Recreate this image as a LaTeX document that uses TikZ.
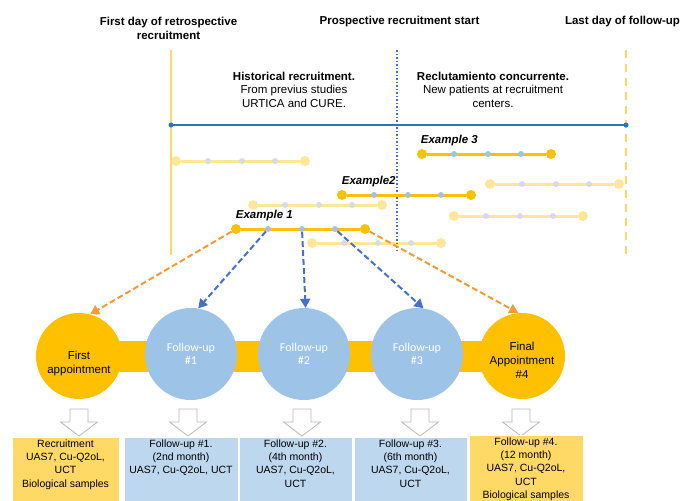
\documentclass[tikz,border=0pt]{standalone}
\usepackage{fontspec}
\setmainfont{Liberation Sans}
\newfontfamily\calibfont{Carlito}
\usetikzlibrary{positioning,arrows.meta}

\definecolor{apyellow}{HTML}{FFC000}
\definecolor{paleyellow}{HTML}{FFE699}
\definecolor{lineyellow}{HTML}{FFD966}
\definecolor{boxyellow}{HTML}{FFD966}
\definecolor{fublue}{HTML}{9DC3E6}
\definecolor{boxblue}{HTML}{BDD7EE}
\definecolor{fadeblue}{HTML}{D6DCE5}
\definecolor{arrorange}{HTML}{F29A35}
\definecolor{arrblue}{HTML}{4472C4}
\definecolor{axisblue}{HTML}{2E75B6}

\tikzset{
  headtext/.style={font=\fontsize{11.5}{13.5}\selectfont\bfseries, align=center, inner sep=0pt},
  infotext/.style={font=\fontsize{11.5}{13.5}\selectfont, align=center, inner sep=0pt},
  exlabel/.style={font=\fontsize{11.5}{13.5}\selectfont\bfseries\itshape, inner sep=1pt},
  tl end/.style={circle, fill=apyellow, minimum size=10pt, inner sep=0pt},
  tl dot/.style={circle, fill=fublue, minimum size=6pt, inner sep=0pt},
  tl line/.style={apyellow, line width=3pt},
  fd end/.style={circle, fill=paleyellow, minimum size=10pt, inner sep=0pt},
  fd dot/.style={circle, fill=fadeblue, minimum size=6pt, inner sep=0pt},
  fd line/.style={paleyellow, line width=3pt},
  axis dot/.style={circle, fill=axisblue, minimum size=5pt, inner sep=0pt},
  visit/.style={circle, fill=apyellow, minimum size=86pt, inner sep=0pt},
  visittext/.style={font=\fontsize{11.5}{14}\selectfont, align=center, inner sep=0pt},
  fuvisit/.style={circle, fill=fublue, minimum size=92pt, inner sep=0pt, text=white,
    font=\calibfont\fontsize{12}{13.5}\selectfont, align=center},
  orange link/.style={arrorange, line width=2pt, dash pattern=on 6pt off 3pt,
    -{Triangle[length=9pt,width=10pt]}},
  blue link/.style={arrblue, line width=2pt, dash pattern=on 6pt off 3pt,
    -{Triangle[length=9pt,width=10pt]}},
  infobox/.style={anchor=north, minimum width=#1, inner sep=2pt, align=center,
    text depth=60pt, draw=white, line width=1pt, font=\fontsize{10.5}{13.3}\selectfont},
  hollow/.style={draw=gray!55, fill=white, line width=0.8pt},
}

\begin{document}
\begin{tikzpicture}[x=1pt,y=-1pt]
\useasboundingbox (0,0) rectangle (681,501);
\clip (0,0) rectangle (681,501);

\node[headtext] (retro) at (168.5,28.5) {First day of retrospective\\recruitment};
\node[headtext] (pros) at (399.5,22) {Prospective recruitment start};
\node[headtext] (last) at (622.5,22) {Last day of follow-up};

\node[infotext] (hist) at (294,89.5) {\textbf{Historical recruitment.}\\From previus studies\\URTICA and CURE.};
\node[infotext] (recl) at (493,89.5) {\textbf{Reclutamiento concurrente.}\\New patients at recruitment\\centers.};

\foreach \x/\y [count=\i] in {176/161,490/184,253/205,454/216,312/243}{
  \node[fd end] (f\i s) at (\x,\y) {};
  \node[fd end] (f\i e) at ({\x+129},\y) {};
  \draw[fd line] (f\i s) -- (f\i e);
  \foreach \d [count=\j] in {32,66,99}
    \node[fd dot] (f\i d\j) at ({\x+\d},\y) {};
}

\coordinate (retro top) at (171,50);
\coordinate (retro bot) at (171,255);
\coordinate (pros top) at (397,50);
\coordinate (pros bot) at (397,252);
\coordinate (last top) at (626,50);
\coordinate (last bot) at (626,255);
\draw[lineyellow, line width=1.5pt] (retro top) -- (retro bot);
\draw[arrblue, line width=1.5pt, dotted] (pros top) -- (pros bot);
\draw[lineyellow, line width=1.5pt, dash pattern=on 8pt off 6pt] (last top) -- (last bot);

\node[axis dot] (axl) at (171,125) {};
\node[axis dot] (axr) at (626,125) {};
\draw[axisblue, line width=1.5pt] (axl.center) -- (axr.center);

\foreach \n/\x/\y in {3/422/154,2/342/195,1/236/229}{
  \node[tl end] (e\n s) at (\x,\y) {};
  \node[tl end] (e\n e) at ({\x+129},\y) {};
  \draw[tl line] (e\n s) -- (e\n e);
  \foreach \d [count=\j] in {32,66,99}
    \node[tl dot] (e\n d\j) at ({\x+\d},\y) {};
}
\node[exlabel, above right=3pt and -6pt of e3s] (ex3) {Example 3};
\node[exlabel, above right=3pt and -5pt of e2s] (ex2) {Example2};
\node[exlabel, above right=3pt and -5pt of e1s] (ex1) {Example 1};

\fill[apyellow] (79,341) rectangle (522,372);
\node[visit] (c1) at (79,356) {};
\node[visittext] (c1t) at ([yshift=-8pt]c1.center) {First\\appointment};
\node[fuvisit] (c2) at (191,354) {Follow-up\\\#1};
\node[fuvisit] (c3) at (304,354) {Follow-up\\\#2};
\node[fuvisit] (c4) at (417,354) {Follow-up\\\#3};
\node[visit] (c5) at (522,356) {};
\node[visittext] (c5t) at ([yshift=-4pt]c5.center) {Final\\Appointment\\\#4};

\draw[orange link] (e1s) -- (c1.75);
\draw[blue link] (e1d1) -- (c2.81);
\draw[blue link] (e1d2) -- (c3.88);
\draw[blue link] (e1d3) -- (c4.82);
\draw[orange link] (e1e) -- (c5.95);

\foreach \x in {79,188,302,420,521}
  \draw[hollow] ({\x-9},409) -- ({\x+9},409) -- ({\x+9},422) -- ({\x+18.5},422)
    -- (\x,436) -- ({\x-18.5},422) -- ({\x-9},422) -- cycle;

\node[infobox=107pt, fill=boxyellow] (b1) at (65.5,437) {Recruitment\\UAS7, Cu-Q2oL,\\UCT\\Biological samples};
\node[infobox=114pt, fill=boxblue] (b2) at (181,437) {Follow-up \#1.\\(2nd month)\\UAS7, Cu-Q2oL, UCT};
\node[infobox=113pt, fill=boxblue] (b3) at (295.5,437) {Follow-up \#2.\\(4th month)\\UAS7, Cu-Q2oL,\\UCT};
\node[infobox=113pt, fill=boxblue] (b4) at (410.5,437) {Follow-up \#3.\\(6th month)\\UAS7, Cu-Q2oL,\\UCT};
\node[infobox=114pt, fill=boxyellow] (b5) at (526,435) {Follow-up \#4.\\(12 month)\\UAS7, Cu-Q2oL,\\UCT\\Biological samples};
\end{tikzpicture}
\end{document}
